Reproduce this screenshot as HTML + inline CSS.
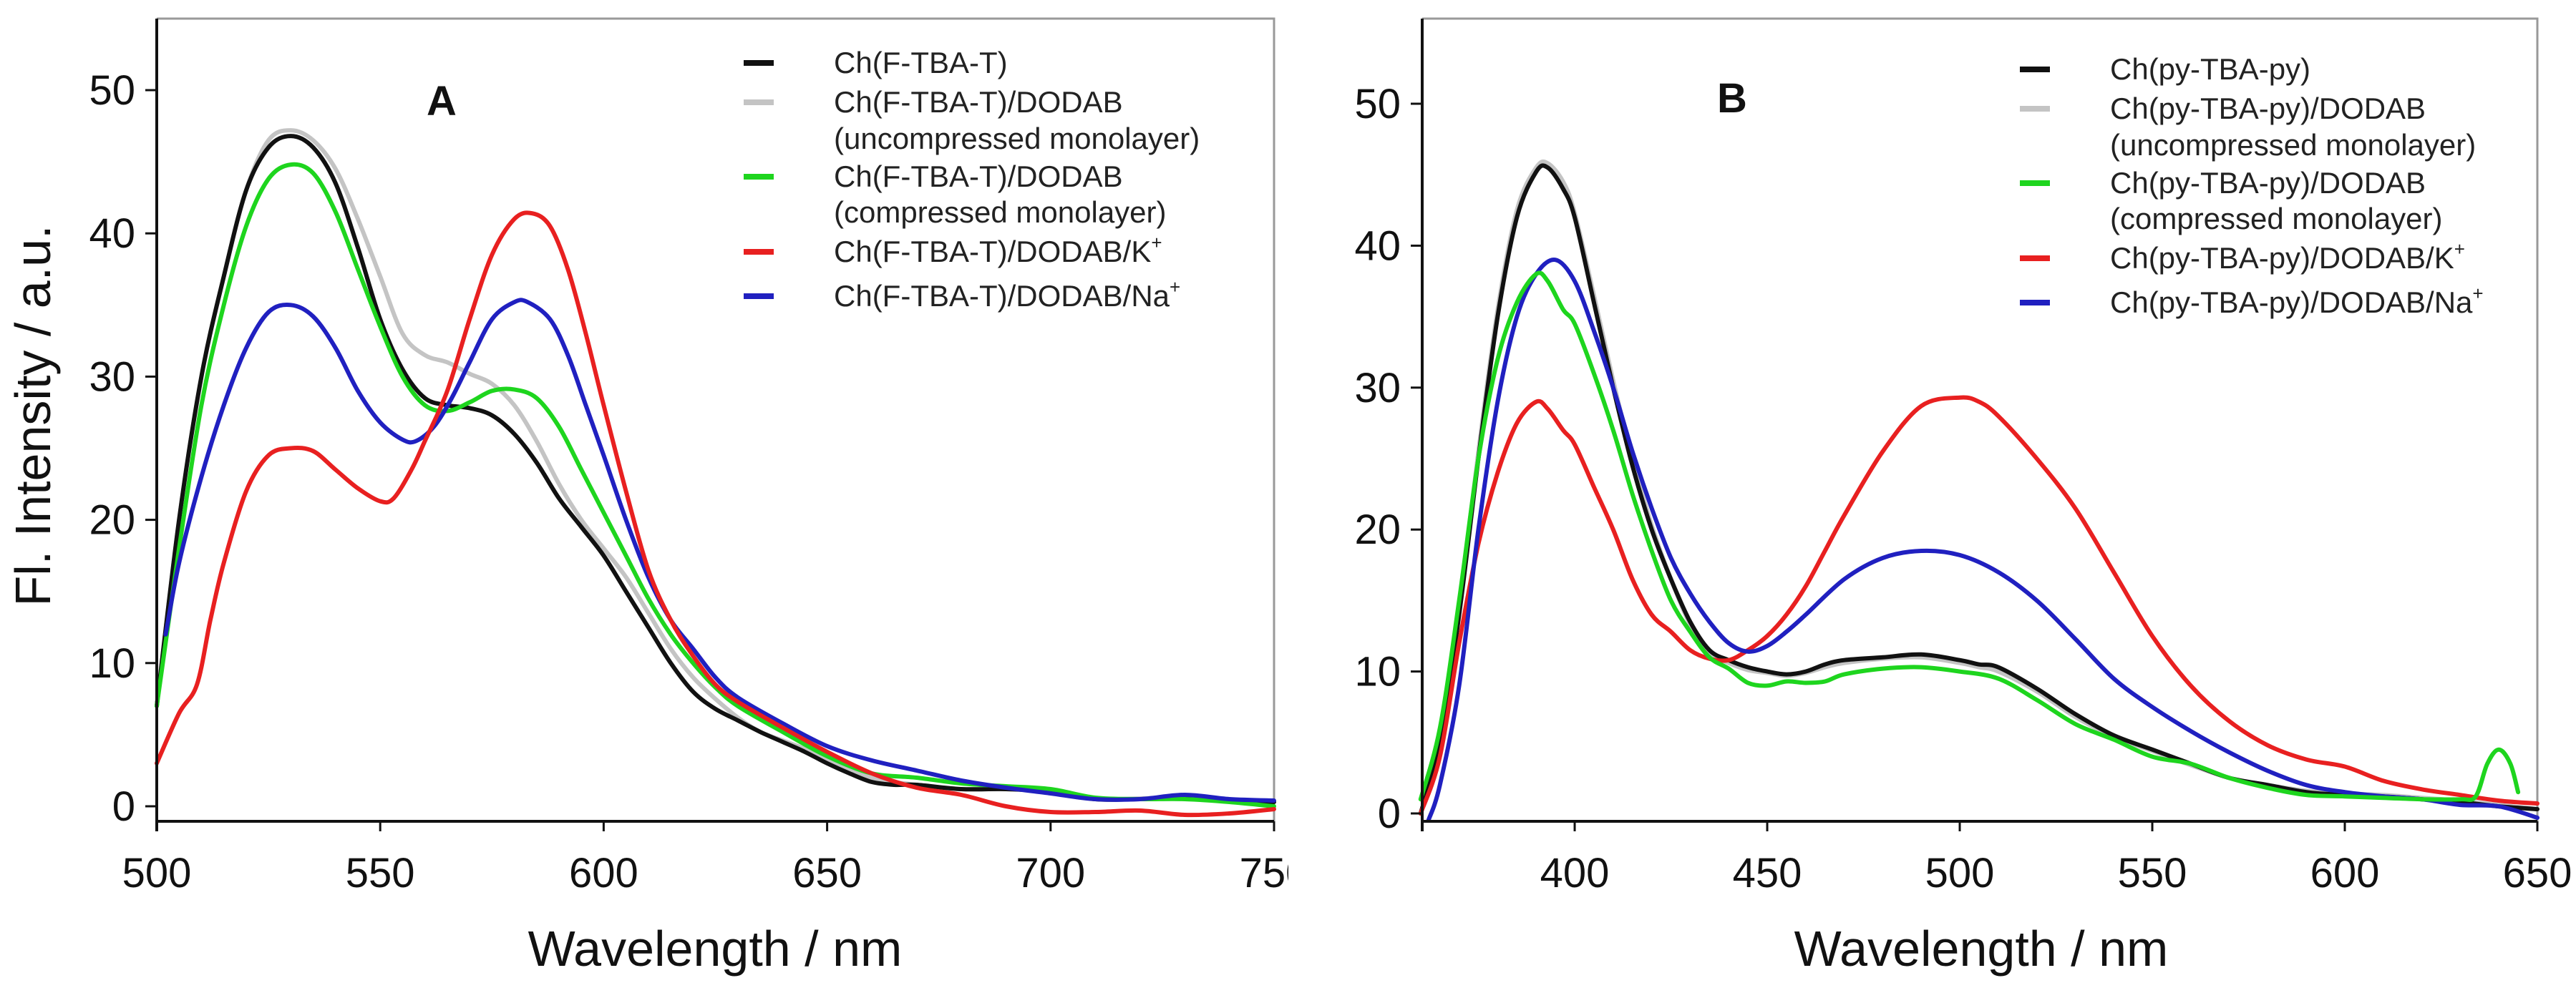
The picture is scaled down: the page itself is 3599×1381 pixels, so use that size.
<!DOCTYPE html>
<html><head><meta charset="utf-8"><style>
html,body{margin:0;padding:0;background:#fff;}
svg{display:block;font-family:"Liberation Sans",sans-serif;}
</style></head><body>
<svg id="chart" width="3599" height="1381" viewBox="0 0 3599 1381" xmlns="http://www.w3.org/2000/svg"><defs><clipPath id="clipA"><rect x="0" y="0" width="1800" height="1381"/></clipPath></defs></svg>
<script>
// ---------- Panel A data ----------
const aBlackX=[500,505,510,515,520,525,530,535,540,545,550,555,560,565,570,575,580,585,590,595,600,605,610,615,620,625,630,635,640,645,650,655,660,665,670,680,690,700,710,720,730,740,750];
const aBlackY=[7,20,30,37,43,46,46.8,46,43.5,39,34,30.5,28.5,28,27.8,27.3,26,24,21.5,19.5,17.5,15,12.5,10,8,6.8,6,5.2,4.5,3.8,3,2.3,1.7,1.5,1.5,1.2,1.2,1,0.5,0.5,0.6,0.4,0.3];
const aGrayX=[500,505,510,515,520,525,530,535,540,545,550,555,560,565,570,575,580,585,590,595,600,605,610,615,620,625,630,635,640,645,650,660,670,680,690,700,710,730,750];
const aGrayY=[7,20,30,37,43,46.5,47.2,46.5,44.5,41,37,33,31.5,31,30.2,29.5,28,25.5,22.5,20,18,16,13.5,11,9,7.5,6.2,5.2,4.6,4,3.3,2,1.5,1.2,1.2,1,0.5,0.6,0.3];
const aGreenX=[500,505,510,515,520,525,530,535,540,545,550,555,560,565,570,575,580,585,590,595,600,605,610,615,620,625,630,640,650,660,670,680,690,700,710,720,730,740,750];
const aGreenY=[7,18,28,35,40.5,43.8,44.8,44.2,41.5,37.5,33.5,30,28,27.6,28.2,29,29.1,28.5,26.5,23.5,20.5,17.5,14.5,12,10,8.3,7,5.2,3.5,2.3,2,1.6,1.4,1.2,0.6,0.5,0.5,0.3,0];
const aRedX=[500,505,509,512,515,520,525,530,535,540,545,550,553,557,560,565,570,575,580,584,588,592,596,600,605,610,615,620,625,630,640,650,660,670,680,690,700,710,720,730,740,750];
const aRedY=[3,6.5,8.5,13,17,22,24.5,25,24.8,23.5,22.2,21.3,21.5,23.5,25.5,29,34,38.5,41,41.4,40.5,37.5,33,28,22,16.5,13,10.5,8.5,7.3,5.5,3.8,2.3,1.3,0.8,0,-0.4,-0.4,-0.3,-0.6,-0.5,-0.2];
const aBlueX=[502,505,510,515,520,525,530,535,540,545,550,555,558,562,566,570,575,580,583,588,592,596,600,605,610,615,620,625,630,640,650,660,670,680,690,700,710,720,730,740,750];
const aBlueY=[12,17,23,28,32,34.5,35,34.2,32,29,26.8,25.6,25.5,26.5,28.5,31,34,35.2,35.2,34,31.5,28,24.5,20,16,13,11,9,7.6,5.8,4.2,3.2,2.5,1.8,1.3,0.9,0.5,0.5,0.8,0.5,0.4];
const aXTicks=[500,550,600,650,700,750];
const aYTicks=[0,10,20,30,40,50];
// ---------- Panel B data ----------
const bBlackX=[360,365,370,375,380,385,390,393,397,400,405,410,415,420,425,430,435,440,445,450,455,460,465,470,480,490,500,505,510,520,530,540,550,560,570,580,590,600,610,620,630,640,650];
const bBlackY=[0,5,14,25,35,42,45.2,45.5,44,42,36,30,24.5,20,16.5,13.5,11.5,10.8,10.3,10,9.8,10,10.5,10.8,11,11.2,10.8,10.5,10.3,8.8,7,5.5,4.5,3.5,2.5,2,1.5,1.3,1.2,1,0.8,0.5,0.3];
const bGrayY=[0,5,14.5,25.5,35.5,42.5,45.5,45.8,44.5,42.3,36.5,30.5,25,20.3,16.5,13.3,11.3,10.6,10.1,9.9,9.7,9.9,10.3,10.6,10.9,11,10.6,10.3,10,8.6,6.8,5.4,4.4,3.4,2.5,2,1.6,1.4,1.3,1.1,0.9,0.6,0.3];
const bGreenX=[360,365,370,375,380,385,390,393,397,400,405,410,415,420,425,430,435,440,445,450,455,460,465,470,480,490,500,510,520,530,540,550,560,570,580,590,600,610,620,630,634,637,640,643,645];
const bGreenY=[1,6,15,25,32,36,38,37.5,35.5,34.5,31,27,22.5,18.5,15,12.8,11,10.2,9.2,9,9.3,9.2,9.3,9.8,10.2,10.3,10,9.5,8,6.3,5.2,4,3.5,2.5,1.8,1.3,1.2,1.1,1,1,1.2,3.5,4.5,3.5,1.5];
const bRedX=[360,365,370,375,380,385,390,393,397,400,405,410,415,420,425,430,435,440,445,450,455,460,465,470,480,490,500,505,510,520,530,540,550,560,570,580,590,600,610,620,630,640,650];
const bRedY=[0,4,12,19,24,27.5,29,28.5,27,26,23,20,16.5,14,12.8,11.5,10.9,10.8,11.5,12.5,14,16,18.5,21,25.5,28.7,29.3,29,28,25,21.5,17,12.5,9,6.5,4.8,3.8,3.3,2.3,1.7,1.3,0.9,0.7];
const bBlueX=[362,365,370,375,380,385,390,395,400,405,410,415,420,425,430,435,440,445,450,455,460,470,480,490,500,510,520,530,540,550,560,570,580,590,600,610,620,630,640,650];
const bBlueY=[-0.5,2,9,20,29,35,38,39,37.5,34,30,25.5,21.5,18,15.5,13.5,12,11.4,11.8,12.8,14,16.5,18,18.5,18.2,17,15,12.3,9.5,7.5,5.8,4.3,3,2,1.5,1.2,1,0.6,0.5,-0.3];
const bXTicks=[400,450,500,550,600,650];
const bYTicks=[0,10,20,30,40,50];

const NS="http://www.w3.org/2000/svg";
const svg=document.getElementById('chart');
function mk(tag,attrs,parent){const e=document.createElementNS(NS,tag);for(const k in attrs)e.setAttribute(k,attrs[k]);(parent||svg).appendChild(e);return e;}
function txt(s,attrs,parent){const e=mk('text',attrs,parent);e.textContent=s;return e;}
function pathFrom(xs,ys,sx,sy){
  const p=xs.map((x,i)=>[sx(x),sy(ys[i])]);
  let d='M'+p[0][0].toFixed(1)+','+p[0][1].toFixed(1);
  for(let i=0;i<p.length-1;i++){
    const p0=p[Math.max(0,i-1)],p1=p[i],p2=p[i+1],p3=p[Math.min(p.length-1,i+2)];
    const c1x=p1[0]+(p2[0]-p0[0])/6,c1y=p1[1]+(p2[1]-p0[1])/6;
    const c2x=p2[0]-(p3[0]-p1[0])/6,c2y=p2[1]-(p3[1]-p1[1])/6;
    d+=' C'+c1x.toFixed(1)+','+c1y.toFixed(1)+' '+c2x.toFixed(1)+','+c2y.toFixed(1)+' '+p2[0].toFixed(1)+','+p2[1].toFixed(1);
  }
  return d;
}
function panel(cfg){
  const g=mk('g',cfg.clip?{"clip-path":cfg.clip}:{});
  
  
  const sx=v=>cfg.x0+(v-cfg.xmin)/(cfg.xmax-cfg.xmin)*(cfg.x1-cfg.x0);
  const sy=v=>cfg.y0-(v/50)*(cfg.y0-cfg.y50);
  const L=cfg.x0,R=cfg.x1,T=26,B=1148;
  const fr=mk('path',{d:`M${L},${T} H${R} V${B}`,fill:'none',stroke:'#999',"stroke-width":3},g);
  
  
  cfg.series.forEach(s=>{
    const p=mk('path',{d:pathFrom(s.x,s.y,sx,sy),fill:'none',stroke:s.c,"stroke-width":6,"stroke-linejoin":'round',"stroke-linecap":'round'},g);
    
    
  });
  const ax=mk('line',{x1:L,y1:T,x2:L,y2:B+14,stroke:'#111',"stroke-width":4},g);
  
  
  const bx=mk('line',{x1:L,y1:B,x2:R,y2:B,stroke:'#111',"stroke-width":4},g);
  
  
  cfg.yt.forEach(v=>{
    mk('line',{x1:L-16,y1:sy(v),x2:L,y2:sy(v),stroke:'#111',"stroke-width":3},g);
    const t=txt(String(v),{x:L-30,y:sy(v)+20,"text-anchor":'end',"font-size":58,fill:'#111'},g);
    
    
  });
  cfg.xt.forEach(v=>{
    mk('line',{x1:sx(v),y1:B,x2:sx(v),y2:B+14,stroke:'#111',"stroke-width":3},g);
    const t=txt(String(v),{x:sx(v),y:1240,"text-anchor":'middle',"font-size":58,fill:'#111'},g);
    
    
  });
  const xl=txt('Wavelength / nm',{x:cfg.xlx,y:1350,"text-anchor":'middle',"font-size":70,fill:'#111'},g);
  
  
  const pl=txt(cfg.letter,{x:cfg.lx,y:cfg.ly,"text-anchor":'middle',"font-size":58,"font-weight":'bold',fill:'#111'},g);
  
  
  cfg.legend.forEach(it=>{
    if(it.c){
      const ln=mk('line',{x1:cfg.lgx,y1:it.y,x2:cfg.lgx+42,y2:it.y,stroke:it.c,"stroke-width":8},g);
      
      
    }
    const t=txt('',{x:cfg.lgt,y:it.y+14,"font-size":42,fill:'#222'},g);
    
    
    t.textContent=it.t;
    if(it.sup){const ts=mk('tspan',{"font-size":26,dy:-18},t);ts.textContent=it.sup;}
  });
}
panel({name:'panel-a',clip:'url(#clipA)',x0:219,x1:1780,xmin:500,xmax:750,y0:1127,y50:126,xt:aXTicks,yt:aYTicks,letter:'A',lx:617,ly:161,xlx:999,
  lgx:1039,lgt:1165,
  series:[
    {n:'series-gray',c:'#c4c4c4',x:aGrayX,y:aGrayY},
    {n:'series-black',c:'#111',x:aBlackX,y:aBlackY},
    {n:'series-green',c:'#1ed51e',x:aGreenX,y:aGreenY},
    {n:'series-blue',c:'#2020c0',x:aBlueX,y:aBlueY},
    {n:'series-red',c:'#e82020',x:aRedX,y:aRedY}],
  legend:[{c:'#111',y:88,t:'Ch(F-TBA-T)'},{c:'#c4c4c4',y:143,t:'Ch(F-TBA-T)/DODAB'},{y:194,t:'(uncompressed monolayer)'},
    {c:'#1ed51e',y:247,t:'Ch(F-TBA-T)/DODAB'},{y:297,t:'(compressed monolayer)'},{c:'#e82020',y:352,t:'Ch(F-TBA-T)/DODAB/K',sup:'+'},{c:'#2020c0',y:414,t:'Ch(F-TBA-T)/DODAB/Na',sup:'+'}]
});
panel({name:'panel-b',x0:1987,x1:3545,xmin:360.4,xmax:650,y0:1137,y50:145,xt:bXTicks,yt:bYTicks,letter:'B',lx:2420,ly:157,xlx:2768,
  lgx:2822,lgt:2948,
  series:[
    {n:'series-gray',c:'#c4c4c4',x:bBlackX,y:bGrayY},
    {n:'series-black',c:'#111',x:bBlackX,y:bBlackY},
    {n:'series-red',c:'#e82020',x:bRedX,y:bRedY},
    {n:'series-blue',c:'#2020c0',x:bBlueX,y:bBlueY},
    {n:'series-green',c:'#1ed51e',x:bGreenX,y:bGreenY}],
  legend:[{c:'#111',y:97,t:'Ch(py-TBA-py)'},{c:'#c4c4c4',y:152,t:'Ch(py-TBA-py)/DODAB'},{y:203,t:'(uncompressed monolayer)'},
    {c:'#1ed51e',y:256,t:'Ch(py-TBA-py)/DODAB'},{y:306,t:'(compressed monolayer)'},{c:'#e82020',y:361,t:'Ch(py-TBA-py)/DODAB/K',sup:'+'},{c:'#2020c0',y:423,t:'Ch(py-TBA-py)/DODAB/Na',sup:'+'}]
});
const yl=txt('Fl. Intensity / a.u.',{x:0,y:0,"text-anchor":'middle',"font-size":70,fill:'#111',transform:'translate(70,581) rotate(-90)'});


</script>
</body></html>
